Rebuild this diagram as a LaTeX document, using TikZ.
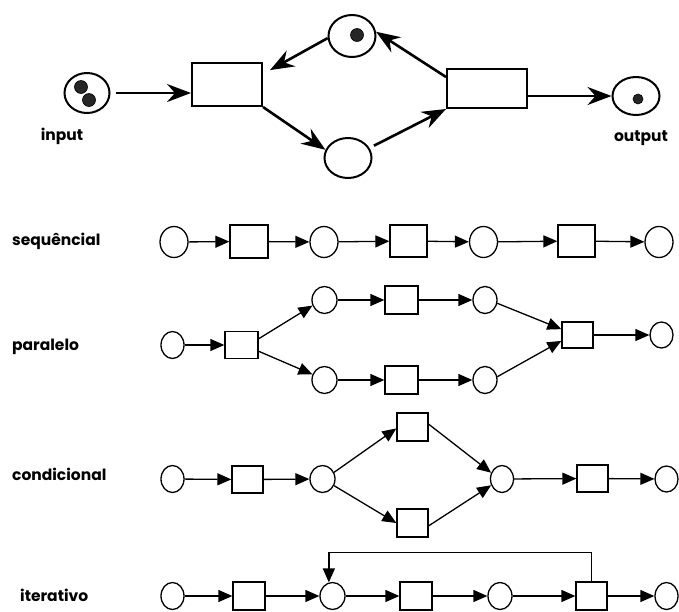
\documentclass[tikz,border=0pt]{standalone}
\usepackage{fontspec}
\setmainfont{Poppins}
\usetikzlibrary{arrows.meta,shapes.geometric}
\begin{document}
\begin{tikzpicture}[x=1pt,y=-1pt,
  lbl/.style={font=\bfseries\fontsize{15.5}{18}\selectfont, inner sep=0pt},
  bigplace/.style={draw, ellipse, line width=2pt, inner sep=0pt},
  bigtrans/.style={draw, rectangle, line width=2pt, inner sep=0pt},
  bigarc/.style={line width=2.6pt, -{Stealth[length=24pt,width=18pt,inset=8pt]}},
  token/.style={circle, fill=black!85, draw=black, line width=0.6pt, inner sep=0pt},
  place/.style={draw, ellipse, line width=1.3pt, inner sep=0pt, minimum width=23pt, minimum height=27pt},
  trans/.style={draw, rectangle, line width=1.3pt, inner sep=0pt, minimum width=32pt, minimum height=28pt},
  arc/.style={line width=1.3pt, -{Triangle[length=14pt,width=12pt]}}
]
\useasboundingbox (0,0) rectangle (679,611);

% ---------- marked net ----------
\node[bigplace, minimum width=45pt, minimum height=40pt] (pin) at (87,93) {};
\node[token, minimum size=13pt] (k1) at (81,87) {};
\node[token, minimum size=13pt] (k2) at (89,100) {};
\node[bigtrans, minimum width=70pt, minimum height=43pt] (t1) at (227,84.5) {};
\node[bigplace, minimum width=47pt, minimum height=42pt] (ptop) at (352,36) {};
\node[token, minimum size=13pt] (k3) at (357,35) {};
\node[bigplace, minimum width=47pt, minimum height=40pt] (pbot) at (348,158) {};
\node[bigtrans, minimum width=80pt, minimum height=39pt] (t2) at (487,88.5) {};
\node[bigplace, minimum width=47pt, minimum height=38pt] (pout) at (636,96) {};
\node[token, minimum size=10pt] (k4) at (638,99) {};
\node[lbl, anchor=base] (lin) at (62,140) {input};
\node[lbl, anchor=base] (lout) at (641,141) {output};

\draw[bigarc, shorten <=5pt] (pin.east) -- (t1.west |- pin.east);
\draw[bigarc] (t1.south east) -- (pbot.160);
\draw[bigarc, shorten <=5pt] (pbot.25) -- (t2.south west);
\draw[bigarc] ([yshift=-9pt]t2.north west) -- (ptop.10);
\draw[bigarc, shorten >=8pt] (ptop.185) -- ([yshift=-12pt]t1.north east);
\draw[bigarc] (t2.east |- pout.west) -- (pout.west);

% ---------- sequential ----------
\node[lbl, anchor=base west] (l1) at (12,245) {sequêncial};
\node[place, minimum width=28pt, minimum height=31pt] (s1) at (174,242) {};
\node[trans, minimum width=38pt, minimum height=33pt] (s2) at (249,241.5) {};
\node[place, minimum width=28pt, minimum height=31pt] (s3) at (324,242) {};
\node[trans, minimum width=37pt, minimum height=32pt] (s4) at (408.5,241) {};
\node[place, minimum width=28pt, minimum height=31pt] (s5) at (483.5,242) {};
\node[trans, minimum width=37pt, minimum height=32pt] (s6) at (576.5,241) {};
\node[place, minimum width=28pt, minimum height=31pt] (s7) at (659,242) {};
\draw[arc] (s1) -- (s2);
\draw[arc] (s2) -- (s3);
\draw[arc] (s3) -- (s4);
\draw[arc] (s4) -- (s5);
\draw[arc] (s5) -- (s6);
\draw[arc] (s6) -- (s7);

% ---------- parallel ----------
\node[lbl, anchor=base west] (l2) at (12,350) {paralelo};
\node[place] (a1) at (172.5,345) {};
\node[trans, minimum width=33pt, minimum height=27pt] (a2) at (241.5,345) {};
\node[place, minimum width=25pt] (a3) at (324.5,300) {};
\node[place, minimum width=25pt] (a4) at (324.5,380) {};
\node[trans, minimum width=33pt] (a5) at (401.5,300) {};
\node[trans, minimum width=33pt] (a6) at (401.5,380) {};
\node[place, minimum width=24pt] (a7) at (485,300) {};
\node[place, minimum width=24pt] (a8) at (485,380) {};
\node[trans, minimum width=31pt, minimum height=26pt] (a9) at (577.5,335) {};
\node[place, minimum width=23pt, minimum height=26pt] (a10) at (661.5,335) {};
\draw[arc] (a1) -- (a2);
\draw[arc] (a2.20) -- (a3.205);
\draw[arc] (a2.-20) -- (a4.155);
\draw[arc] (a3) -- (a5);
\draw[arc] (a4) -- (a6);
\draw[arc] (a5) -- (a7);
\draw[arc] (a6) -- (a8);
\draw[arc] (a7.-15) -- (a9.160);
\draw[arc] (a8.15) -- (a9.200);
\draw[arc] (a9) -- (a10);

% ---------- conditional ----------
\node[lbl, anchor=base west] (l3) at (12,480) {condicional};
\node[place] (c1) at (172.5,479) {};
\node[trans, minimum width=31pt, minimum height=27pt] (c2) at (247.5,479.5) {};
\node[place, minimum width=25pt] (c3) at (322.5,479) {};
\node[trans, minimum width=31pt] (c4) at (412.5,427) {};
\node[trans, minimum width=31pt] (c5) at (412.5,523) {};
\node[place] (c6) at (502,479) {};
\node[trans, minimum width=31pt, minimum height=27pt] (c7) at (592.5,478.5) {};
\node[place, minimum height=26pt] (c8) at (666.5,479) {};
\draw[arc] (c1) -- (c2);
\draw[arc] (c2) -- (c3);
\draw[arc] (c3.30) -- (c4.185);
\draw[arc] (c3.-30) -- (c5.west);
\draw[arc] (c4.10) -- (c6.150);
\draw[arc] (c5.-10) -- (c6.210);
\draw[arc] (c6) -- (c7);
\draw[arc] (c7) -- (c8);

% ---------- iterative ----------
\node[lbl, anchor=base west] (l4) at (20,601) {iterativo};
\node[place] (i1) at (172.5,596) {};
\node[trans] (i2) at (249,596) {};
\node[place, minimum width=25pt] (i3) at (332.5,596) {};
\node[trans] (i4) at (416,596) {};
\node[place, minimum width=24pt] (i5) at (500,596) {};
\node[trans, minimum width=31pt] (i6) at (591.5,596) {};
\node[place] (i7) at (666.5,596) {};
\draw[arc] (i1) -- (i2);
\draw[arc] (i2) -- (i3);
\draw[arc] (i3) -- (i4);
\draw[arc] (i4) -- (i5);
\draw[arc] (i5) -- (i6);
\draw[arc] (i6) -- (i7);
\draw[arc] (i6.north) -- ++(0,-29) -| (i3.105);
\end{tikzpicture}
\end{document}
